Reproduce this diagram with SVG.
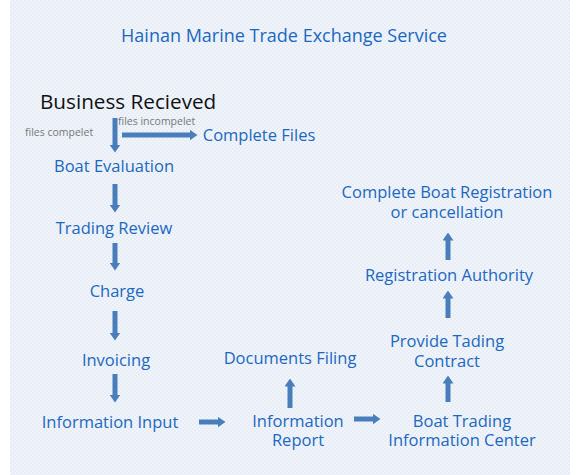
<svg xmlns="http://www.w3.org/2000/svg" width="580" height="475" viewBox="0 0 580 475">
<style>
.t{font-family:"Segoe UI","Open Sans","Noto Sans","DejaVu Sans",sans-serif;fill:#1c68be;font-size:16.5px;text-anchor:middle}
.title{font-size:18px}
.big{fill:#111;font-size:20.7px;text-anchor:start}
.lbl{fill:#777;font-size:10.5px;text-anchor:start}
.c{stroke:#4a7ebb;stroke-width:5;fill:none;marker-end:url(#ah)}
</style>
<defs>
<pattern id="dots" width="4" height="4" patternUnits="userSpaceOnUse">
<rect width="4" height="4" fill="#f1f5fa"/>
<rect width="2" height="2" fill="#e6edf7"/>
<rect x="2" y="2" width="2" height="2" fill="#e6edf7"/>
</pattern>
<marker id="ah" markerUnits="userSpaceOnUse" markerWidth="8" markerHeight="11" viewBox="0 0 8 11" refX="0.5" refY="5.5" orient="auto">
<path d="M0,0 L8,5.5 L0,11 z" fill="#4a7ebb"/>
</marker>
</defs>
<rect width="580" height="475" fill="#ffffff"/>
<rect x="10" y="0" width="560" height="475" fill="url(#dots)"/>
<text class="t title" x="284" y="42">Hainan Marine Trade Exchange Service</text>

<g id="connectors">
<line class="c" x1="115" y1="118" x2="115" y2="145"/>
<line class="c" x1="122" y1="135" x2="190" y2="135"/>
<line class="c" x1="115" y1="184" x2="115" y2="205"/>
<line class="c" x1="115" y1="243" x2="115" y2="263"/>
<line class="c" x1="115" y1="311" x2="115" y2="333"/>
<line class="c" x1="115" y1="374" x2="115" y2="395"/>
<line class="c" x1="199" y1="422" x2="218" y2="422"/>
<line class="c" x1="290" y1="408" x2="290" y2="386"/>
<line class="c" x1="354" y1="419" x2="373" y2="419"/>
<line class="c" x1="448" y1="402" x2="448" y2="383"/>
<line class="c" x1="448" y1="318" x2="448" y2="298"/>
<line class="c" x1="448" y1="260" x2="448" y2="240"/>
</g>

<g id="business-received"><text class="t big" x="40" y="109">Business Recieved</text></g>
<g id="label-complete"><text class="t lbl" x="25" y="136">files compelet</text></g>
<g id="label-incomplete"><text class="t lbl" x="118" y="125">files incompelet</text></g>
<g id="complete-files"><text class="t" x="259" y="141">Complete Files</text></g>
<g id="boat-evaluation"><text class="t" x="114" y="172">Boat Evaluation</text></g>
<g id="trading-review"><text class="t" x="114" y="234">Trading Review</text></g>
<g id="charge"><text class="t" x="117" y="297">Charge</text></g>
<g id="invoicing"><text class="t" x="116" y="366">Invoicing</text></g>
<g id="information-input"><text class="t" x="110" y="428">Information Input</text></g>
<g id="information-report"><text class="t" x="298" y="427">Information<tspan x="298" dy="19">Report</tspan></text></g>
<g id="documents-filing"><text class="t" x="290" y="364">Documents Filing</text></g>
<g id="boat-trading-center"><text class="t" x="462" y="427">Boat Trading<tspan x="462" dy="19">Information Center</tspan></text></g>
<g id="provide-contract"><text class="t" x="447" y="347">Provide Tading<tspan x="447" dy="20">Contract</tspan></text></g>
<g id="registration-authority"><text class="t" x="449" y="281">Registration Authority</text></g>
<g id="complete-registration"><text class="t" x="447" y="198">Complete Boat Registration<tspan x="447" dy="20">or cancellation</tspan></text></g>
</svg>
